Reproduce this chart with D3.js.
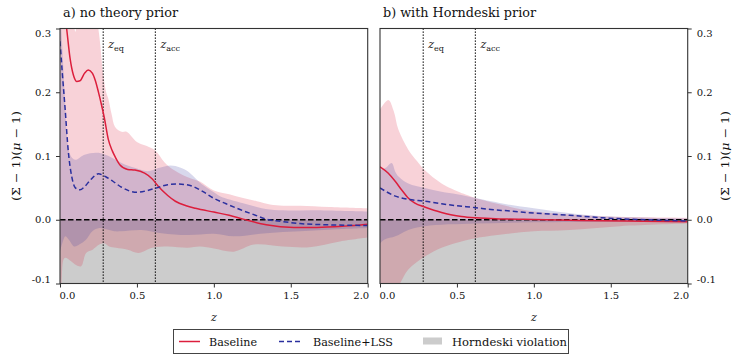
<!DOCTYPE html>
<html><head><meta charset="utf-8">
<script src="https://cdn.jsdelivr.net/npm/d3@7"></script>
<style>
body{margin:0;background:#fff}
svg{display:block}
text{font-family:"DejaVu Serif",serif;fill:#111}
</style>
</head><body>
<svg id="c" width="748" height="355"></svg>
<script>
// ---------- axes / labels ----------
const xTicks = [0, 0.5, 1, 1.5, 2];
const xTickLabels = ["0.0", "0.5", "1.0", "1.5", "2.0"];
const yTicks = [0.3, 0.2, 0.1, 0, -0.1];
const yTickLabels = ["0.3", "0.2", "0.1", "0.0", "-0.1"];
const panelTitles = ["a) no theory prior", "b) with Horndeski prior"];
const markerZ = [0.281, 0.62];
const markerSub = ["eq", "acc"];
const legendLabels = ["Baseline", "Baseline+LSS", "Horndeski violation"];

// ---------- Horndeski violation region ----------
const hornZ = [0, 2];
const hornTop = [0, 0];
const hornBottom = [-0.1, -0.1];

// ---------- panel a: no theory prior ----------
const aRedZ = [0, 0.02, 0.043, 0.065, 0.087, 0.108, 0.13, 0.16, 0.184, 0.21, 0.23, 0.249, 0.27, 0.288, 0.314, 0.34, 0.36, 0.39, 0.44, 0.487, 0.55, 0.6, 0.64, 0.7, 0.75, 0.82, 0.88, 1.0, 1.1, 1.19, 1.34, 1.52, 1.67, 1.85, 2.0];
const aRed  = [0.40, 0.34, 0.30, 0.254, 0.227, 0.217, 0.218, 0.23, 0.235, 0.23, 0.218, 0.201, 0.18, 0.16, 0.126, 0.108, 0.098, 0.086, 0.079, 0.078, 0.073, 0.064, 0.052, 0.038, 0.029, 0.022, 0.018, 0.012, 0.007, 0.001, -0.008, -0.012, -0.012, -0.01, -0.007];

const aBlueZ = [0, 0.015, 0.033, 0.054, 0.076, 0.1, 0.13, 0.16, 0.2, 0.249, 0.3, 0.346, 0.4, 0.5, 0.57, 0.628, 0.7, 0.758, 0.82, 0.866, 0.93, 0.997, 1.08, 1.17, 1.26, 1.34, 1.45, 1.56, 1.75, 2.0];
const aBlue  = [0.28, 0.23, 0.175, 0.107, 0.068, 0.05, 0.047, 0.052, 0.063, 0.072, 0.067, 0.06, 0.051, 0.043, 0.046, 0.05, 0.055, 0.056, 0.055, 0.052, 0.044, 0.034, 0.025, 0.016, 0.008, 0.001, -0.003, -0.006, -0.008, -0.009];

const aRedBandZ  = [0, 0.06, 0.08, 0.1, 0.12, 0.2, 0.249, 0.28, 0.3, 0.314, 0.336, 0.357, 0.4, 0.433, 0.5, 0.56, 0.617, 0.68, 0.74, 0.8, 0.86, 0.91, 1.0, 1.1, 1.19, 1.28, 1.365, 1.45, 1.56, 1.75, 2.0];
const aRedBandHi = [0.45, 0.36, 0.33, 0.295, 0.33, 0.36, 0.3, 0.23, 0.2, 0.19, 0.165, 0.146, 0.138, 0.138, 0.122, 0.116, 0.109, 0.09, 0.078, 0.07, 0.064, 0.06, 0.046, 0.04, 0.034, 0.029, 0.024, 0.022, 0.022, 0.02, 0.018];
const aRedBandLoZ = [0, 0.01, 0.03, 0.072, 0.104, 0.137, 0.17, 0.212, 0.255, 0.288, 0.32, 0.364, 0.44, 0.51, 0.6, 0.7, 0.83, 0.91, 1.0, 1.13, 1.26, 1.45, 1.62, 1.82, 2.0];
const aRedBandLo  = [-0.13, -0.1, -0.06, -0.065, -0.071, -0.073, -0.052, -0.047, -0.039, -0.037, -0.042, -0.044, -0.047, -0.052, -0.044, -0.042, -0.044, -0.042, -0.045, -0.05, -0.039, -0.042, -0.043, -0.034, -0.028];

const aBlueBandZ  = [0, 0.015, 0.03, 0.05, 0.07, 0.1, 0.16, 0.25, 0.34, 0.4, 0.49, 0.57, 0.64, 0.72, 0.78, 0.83, 0.92, 1.0, 1.04, 1.19, 1.365, 1.67, 2.0];
const aBlueBandHi = [0.34, 0.27, 0.2, 0.12, 0.1, 0.094, 0.102, 0.105, 0.097, 0.089, 0.081, 0.076, 0.081, 0.085, 0.082, 0.076, 0.056, 0.043, 0.037, 0.026, 0.016, 0.015, 0.013];
const aBlueBandLoZ = [0, 0.015, 0.035, 0.06, 0.093, 0.125, 0.17, 0.21, 0.255, 0.3, 0.353, 0.4, 0.53, 0.66, 0.83, 1.0, 1.13, 1.34, 1.56, 1.8, 2.0];
const aBlueBandLo  = [-0.05, -0.037, -0.026, -0.032, -0.042, -0.039, -0.031, -0.018, -0.013, -0.015, -0.018, -0.018, -0.016, -0.021, -0.024, -0.022, -0.026, -0.021, -0.018, -0.015, -0.013];

// ---------- panel b: with Horndeski prior ----------
const bRedZ = [0, 0.054, 0.1, 0.14, 0.18, 0.227, 0.29, 0.35, 0.4, 0.46, 0.53, 0.62, 0.72, 0.83, 1.0, 1.3, 1.6, 2.0];
const bRed  = [0.083, 0.073, 0.06, 0.047, 0.035, 0.026, 0.02, 0.015, 0.0115, 0.008, 0.005, 0.003, 0.002, 0.001, 0.0005, -0.001, -0.002, -0.003];

const bBlueZ = [0, 0.1, 0.184, 0.29, 0.4, 0.5, 0.62, 0.72, 0.83, 1.0, 1.23, 1.45, 1.67, 2.0];
const bBlue  = [0.05, 0.037, 0.032, 0.029, 0.025, 0.022, 0.019, 0.016, 0.014, 0.0105, 0.007, 0.003, 0.0005, -0.002];

const bRedBandZ  = [0, 0.054, 0.09, 0.12, 0.184, 0.24, 0.29, 0.4, 0.51, 0.54, 0.62, 0.83, 1.0, 1.25, 1.5, 2.0];
const bRedBandHi = [0.173, 0.188, 0.17, 0.141, 0.11, 0.092, 0.078, 0.057, 0.044, 0.041, 0.034, 0.021, 0.013, 0.008, 0.005, 0.003];
const bRedBandLoZ = [0, 0.06, 0.13, 0.184, 0.29, 0.4, 0.53, 0.62, 0.83, 1.0, 1.23, 1.56, 2.0];
const bRedBandLo  = [-0.16, -0.13, -0.1, -0.078, -0.058, -0.044, -0.034, -0.029, -0.022, -0.018, -0.016, -0.01, -0.006];

const bBlueBandZ  = [0, 0.04, 0.076, 0.1, 0.12, 0.184, 0.29, 0.4, 0.5, 0.62, 0.83, 1.0, 1.25, 1.5, 2.0];
const bBlueBandHi = [0.078, 0.082, 0.089, 0.075, 0.068, 0.057, 0.05, 0.044, 0.04, 0.034, 0.024, 0.018, 0.01, 0.005, 0.002];
const bBlueBandLoZ = [0, 0.03, 0.1, 0.184, 0.29, 0.62, 1.0, 1.5, 2.0];
const bBlueBandLo  = [-0.037, -0.031, -0.026, -0.016, -0.01, -0.006, -0.004, -0.003, -0.002];

// ---------- drawing ----------
const RED = "#dc1e3c", BLUE = "#2a2f9e", GREY = "#cccccc";
const svg = d3.select("#c");
const yTop = 28.5, yBot = 283.5;
const y = d3.scaleLinear().domain([-0.1, 0.3]).range([yBot, yTop]);

function band(zHi, hi, zLo, lo) {
  return {
    up: zHi.map((z, i) => [z, hi[i]]),
    dn: zLo.map((z, i) => [z, lo[i]]).reverse()
  };
}

function drawPanel(idx, x0, x1, d) {
  const x = d3.scaleLinear().domain([0, 2]).range([x0, x1]);
  const g = svg.append("g");
  const clipId = "clip" + idx;
  svg.append("clipPath").attr("id", clipId).append("rect")
    .attr("x", x0).attr("y", yTop).attr("width", x1 - x0).attr("height", yBot - yTop);
  const pg = g.append("g").attr("clip-path", `url(#${clipId})`);

  // Horndeski violation
  const hornArea = d3.area().x((v, i) => x(hornZ[i])).y0((v, i) => y(hornBottom[i])).y1(v => y(v));
  pg.append("path").attr("d", hornArea(hornTop)).attr("fill", GREY);

  const lineGen = d3.line().x(p => x(p[0])).y(p => y(p[1])).curve(d3.curveMonotoneX);
  const smooth = d3.line().x(p => x(p[0])).y(p => y(p[1])).curve(d3.curveCatmullRom.alpha(0.5));
  function bandPath(b) {
    return smooth(b.up) + "L" + smooth(b.dn).slice(1) + "Z";
  }
  pg.append("path").attr("d", bandPath(d.redBand)).attr("fill", RED).attr("fill-opacity", 0.2);
  pg.append("path").attr("d", bandPath(d.blueBand)).attr("fill", "#3a3aa0").attr("fill-opacity", 0.2);

  // zero line
  pg.append("line").attr("x1", x0).attr("x2", x1).attr("y1", y(0)).attr("y2", y(0))
    .attr("stroke", "#000").attr("stroke-width", 1.5).attr("stroke-dasharray", "5.5,2.5");

  // markers
  markerZ.forEach((mz, i) => {
    pg.append("line").attr("x1", x(mz)).attr("x2", x(mz)).attr("y1", yTop).attr("y2", yBot)
      .attr("stroke", "#000").attr("stroke-width", 1.2).attr("stroke-dasharray", "1.2,1.8");
    const t = g.append("text").attr("x", x(mz) + 5).attr("y", 48).attr("font-size", 11);
    t.append("tspan").attr("font-style", "italic").text("z");
    t.append("tspan").attr("font-size", 8).attr("dy", 2.5).text(markerSub[i]);
  });

  // lines
  pg.append("path").attr("d", lineGen(d.redZ.map((z, i) => [z, d.red[i]])))
    .attr("fill", "none").attr("stroke", RED).attr("stroke-width", 1.5);
  pg.append("path").attr("d", lineGen(d.blueZ.map((z, i) => [z, d.blue[i]])))
    .attr("fill", "none").attr("stroke", BLUE).attr("stroke-width", 1.5).attr("stroke-dasharray", "5,3");

  // frame
  g.append("rect").attr("x", x0).attr("y", yTop).attr("width", x1 - x0).attr("height", yBot - yTop)
    .attr("fill", "none").attr("stroke", "#333").attr("stroke-width", 1.1);

  // x axis
  const xa = d3.axisBottom(x).tickValues(xTicks).tickFormat((v, i) => xTickLabels[i]).tickSize(4).tickPadding(4);
  const xg = g.append("g").attr("transform", `translate(0,${yBot})`).call(xa);
  xg.select(".domain").remove();
  xg.selectAll("line").attr("stroke", "#333");
  xg.selectAll("text").attr("font-size", 10).attr("font-family", "DejaVu Serif").attr("fill", "#111");
  const xt = xg.selectAll("text").nodes();
  d3.select(xt[0]).attr("text-anchor", "start").attr("x", -1);
  d3.select(xt[xt.length - 1]).attr("text-anchor", "end").attr("x", 1);

  // y axis
  const ya = (idx === 0 ? d3.axisLeft(y) : d3.axisRight(y)).tickValues(yTicks)
    .tickFormat((v, i) => yTickLabels[i]).tickSize(4).tickPadding(5);
  const yg = g.append("g").attr("transform", `translate(${idx === 0 ? x0 : x1},0)`).call(ya);
  yg.select(".domain").remove();
  yg.selectAll("line").attr("stroke", "#333");
  yg.selectAll("text").attr("font-size", 10).attr("font-family", "DejaVu Serif").attr("fill", "#111");
  const yt = yg.selectAll("text").nodes();
  d3.select(yt[0]).attr("dy", "0.8em");
  d3.select(yt[yt.length - 1]).attr("dy", "-0.15em");

  // title
  g.append("text").attr("x", x0 + 3).attr("y", 17).attr("font-size", 12)
    .attr("textLength", idx === 0 ? 115 : 153).attr("lengthAdjust", "spacingAndGlyphs").text(panelTitles[idx]);
  // x label
  g.append("text").attr("x", (x0 + x1) / 2).attr("y", 321).attr("text-anchor", "middle")
    .attr("font-size", 11).attr("font-style", "italic").text("z");
  // y label
  const lx = idx === 0 ? 16 : 725;
  const yl = g.append("text").attr("transform", `translate(${lx},${(yTop + yBot) / 2}) rotate(-90)`)
    .attr("text-anchor", "middle").attr("dy", "0.35em").attr("font-size", 11)
    .attr("textLength", 90).attr("lengthAdjust", "spacingAndGlyphs");
  yl.append("tspan").text("(Σ − 1)(");
  yl.append("tspan").attr("font-style", "italic").text("μ");
  yl.append("tspan").text(" − 1)");
}

drawPanel(0, 60, 367.7, {
  redZ: aRedZ, red: aRed, blueZ: aBlueZ, blue: aBlue,
  redBand: band(aRedBandZ, aRedBandHi, aRedBandLoZ, aRedBandLo),
  blueBand: band(aBlueBandZ, aBlueBandHi, aBlueBandLoZ, aBlueBandLo)
});
drawPanel(1, 380, 687.7, {
  redZ: bRedZ, red: bRed, blueZ: bBlueZ, blue: bBlue,
  redBand: band(bRedBandZ, bRedBandHi, bRedBandLoZ, bRedBandLo),
  blueBand: band(bBlueBandZ, bBlueBandHi, bBlueBandLoZ, bBlueBandLo)
});

// legend
const lg = svg.append("g");
lg.append("rect").attr("x", 173.5).attr("y", 329.5).attr("width", 395).attr("height", 24)
  .attr("fill", "#fff").attr("stroke", "#444").attr("stroke-width", 1);
lg.append("line").attr("x1", 179).attr("x2", 200).attr("y1", 341.5).attr("y2", 341.5)
  .attr("stroke", RED).attr("stroke-width", 1.5);
lg.append("line").attr("x1", 279).attr("x2", 303).attr("y1", 341.5).attr("y2", 341.5)
  .attr("stroke", BLUE).attr("stroke-width", 1.5).attr("stroke-dasharray", "5,3");
lg.append("rect").attr("x", 423).attr("y", 337.5).attr("width", 19).attr("height", 7).attr("fill", GREY);
const legendWidths = [48, 80, 115];
[209, 313, 452].forEach((lx, i) => {
  lg.append("text").attr("x", lx).attr("y", 345.5).attr("font-size", 10.5)
    .attr("textLength", legendWidths[i]).attr("lengthAdjust", "spacingAndGlyphs").text(legendLabels[i]);
});
</script>
</body></html>
